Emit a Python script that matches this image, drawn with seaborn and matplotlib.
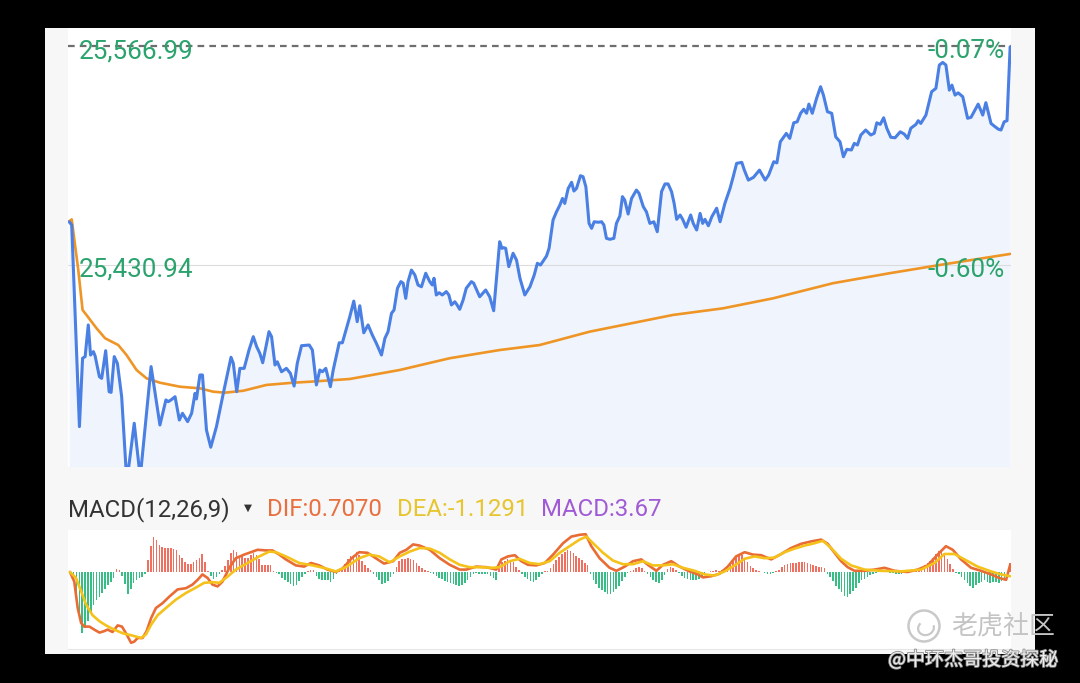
import numpy as np
import matplotlib
matplotlib.use("Agg")
import matplotlib.pyplot as plt
import matplotlib.transforms as mtransforms
from matplotlib.patches import Rectangle, Circle, Arc
import matplotlib.patheffects as pe
import seaborn as sns

# ---------------- data ----------------
# intraday price (minute index from open, price)
price_min = [
    0.4, 1.3, 4.0, 5.1, 6.0, 7.1, 7.9, 8.9, 9.5, 11.0,
    11.8, 13.2, 14.4, 15.1, 16.2, 17.3, 18.8, 20.6, 23.2, 25.3,
    29.1, 30.5, 32.2, 34.3, 35.1, 36.1, 37.5, 39.0, 40.1, 41.9,
    43.3, 44.5, 45.0, 46.2, 47.1, 48.5, 50.0, 52.0, 54.4, 57.1,
    57.9, 59.1, 60.2, 61.7, 63.4, 64.9, 66.1, 67.2, 68.2, 70.4,
    71.3, 72.5, 73.3, 74.8, 76.5, 77.9, 79.2, 80.3, 81.8, 84.5,
    85.6, 87.0, 88.2, 89.1, 90.3, 91.9, 92.9, 95.0, 96.1, 98.7,
    100.1, 101.3, 102.2, 103.6, 105.1, 106.6, 108.0, 109.8, 111.0, 112.1,
    113.3, 114.2, 115.4, 116.6, 117.4, 118.3, 119.1, 120.3, 121.5, 122.6,
    123.8, 125.3, 126.7, 127.6, 128.2, 129.0, 130.0, 131.1, 132.5, 133.4,
    134.3, 135.5, 136.3, 137.2, 138.4, 139.5, 141.3, 142.1, 144.2, 146.3,
    147.7, 149.1, 151.2, 152.0, 152.6, 153.3, 154.4, 155.9, 157.1, 158.3,
    160.0, 161.8, 163.3, 164.4, 165.5, 167.6, 168.5, 169.9, 171.1, 172.3,
    173.2, 174.0, 175.2, 176.4, 177.2, 178.1, 179.5, 180.4, 181.4, 182.5,
    183.4, 184.3, 185.7, 186.9, 187.7, 188.6, 189.8, 191.2, 192.1, 193.3,
    194.2, 195.0, 196.2, 197.4, 199.1, 200.0, 201.5, 202.6, 203.8, 205.2,
    206.4, 207.9, 209.1, 210.2, 211.4, 212.3, 213.2, 214.4, 215.3, 216.5,
    218.1, 219.0, 220.2, 221.4, 222.3, 223.1, 224.3, 225.5, 227.2, 228.4,
    230.1, 231.9, 233.0, 234.2, 236.0, 236.9, 238.3, 240.1, 242.2, 244.2,
    245.4, 247.2, 248.3, 249.5, 251.6, 252.8, 254.2, 255.4, 256.6, 257.7,
    258.7, 259.5, 260.7, 262.2, 263.6, 264.6, 266.0, 267.5, 268.9, 270.4,
    271.6, 272.8, 274.4, 275.4, 276.5, 277.7, 279.4, 281.2, 282.4, 283.3,
    284.5, 285.7, 286.8, 288.2, 289.7, 291.5, 292.9, 294.1, 295.2, 297.0,
    297.8, 298.7, 300.5, 302.5, 304.0, 305.2, 306.4, 307.5, 308.7, 309.6,
    310.7, 311.8, 313.4, 315.1, 316.3, 318.8, 320.4, 321.5, 323.3, 324.4,
    325.8, 326.8, 327.9, 328.9, 330.0,
]
price = [
    25457.8, 25455.8, 25330.5, 25373.0, 25374.0, 25393.7, 25375.0, 25377.1, 25374.4, 25361.5,
    25360.5, 25377.7, 25352.2, 25351.8, 25374.0, 25369.8, 25349.1, 25296.0, 25332.6, 25299.0,
    25367.8, 25351.2, 25331.5, 25347.1, 25346.0, 25347.1, 25349.1, 25334.6, 25338.8, 25333.6,
    25338.8, 25351.2, 25347.7, 25362.6, 25362.6, 25328.4, 25317.7, 25330.5, 25351.2, 25373.6,
    25369.8, 25352.2, 25366.7, 25366.7, 25378.1, 25386.4, 25380.1, 25376.0, 25370.2, 25389.5,
    25386.4, 25368.8, 25370.8, 25364.6, 25366.7, 25363.6, 25355.7, 25369.8, 25380.8, 25381.2,
    25378.1, 25356.4, 25365.7, 25364.6, 25366.7, 25355.3, 25365.7, 25382.6, 25382.6, 25398.8,
    25408.5, 25395.7, 25405.6, 25388.8, 25393.7, 25387.4, 25382.3, 25375.0, 25385.4, 25389.5,
    25400.9, 25403.0, 25416.5, 25420.6, 25419.6, 25410.2, 25420.6, 25427.8, 25424.7, 25418.5,
    25417.4, 25425.8, 25420.6, 25418.5, 25422.7, 25412.3, 25413.7, 25412.3, 25414.4, 25412.3,
    25406.1, 25408.1, 25406.1, 25403.4, 25409.2, 25416.5, 25420.6, 25419.6, 25411.2, 25415.4,
    25411.2, 25402.5, 25445.4, 25441.3, 25441.7, 25441.3, 25429.9, 25438.2, 25434.0, 25422.7,
    25412.3, 25417.4, 25424.7, 25432.0, 25430.9, 25436.5, 25441.3, 25458.9, 25464.0, 25468.2,
    25472.3, 25469.2, 25478.5, 25482.3, 25476.9, 25478.5, 25486.4, 25485.8, 25479.5, 25456.8,
    25453.7, 25457.8, 25457.5, 25457.8, 25455.8, 25447.5, 25446.9, 25447.5, 25456.8, 25461.4,
    25473.4, 25471.3, 25462.6, 25472.3, 25477.5, 25475.5, 25467.2, 25464.0, 25456.8, 25457.8,
    25451.6, 25476.5, 25481.3, 25481.3, 25476.5, 25469.3, 25459.3, 25462.0, 25459.3, 25454.4,
    25462.0, 25456.8, 25452.7, 25463.0, 25456.8, 25459.3, 25455.3, 25460.9, 25466.2, 25457.8,
    25469.3, 25478.6, 25485.8, 25494.1, 25494.7, 25489.9, 25483.7, 25485.4, 25489.9, 25483.7,
    25486.8, 25495.1, 25494.4, 25507.5, 25512.7, 25509.6, 25519.3, 25519.9, 25525.2, 25527.7,
    25525.2, 25530.9, 25525.2, 25534.5, 25541.7, 25536.5, 25526.2, 25525.2, 25510.6, 25507.5,
    25498.2, 25502.8, 25502.4, 25506.5, 25505.5, 25511.7, 25514.8, 25511.7, 25512.8, 25519.3,
    25518.3, 25522.4, 25515.9, 25510.3, 25510.0, 25513.7, 25512.3, 25509.6, 25515.9, 25518.3,
    25520.6, 25518.9, 25524.1, 25538.6, 25540.7, 25555.2, 25556.8, 25555.2, 25539.6, 25542.7,
    25536.5, 25537.9, 25535.5, 25522.1, 25522.7, 25530.9, 25524.1, 25531.8, 25518.9, 25517.3,
    25515.4, 25514.8, 25519.9, 25520.6, 25566.5,
]

# average price line
ma_min = [0.4, 1.3, 3.6, 5.1, 7.1, 10.0, 13.0, 17.6, 20.5, 24.0, 27.5, 32.2, 39.2,
          46.2, 50.9, 55.0, 61.4, 69.5, 78.9, 84.7, 98.7, 116.2, 133.7, 151.2, 165.2,
          182.7, 211.9, 229.4, 246.9, 267.9, 287.7, 305.2, 330.0]
ma_val = [25458.0, 25459.3, 25427.8, 25403.0, 25398.4, 25391.6, 25385.4, 25381.2,
          25375.0, 25365.7, 25360.5, 25357.8, 25355.3, 25354.3, 25352.2, 25351.6,
          25352.8, 25356.4, 25357.8, 25358.4, 25360.1, 25365.7, 25373.0, 25378.1,
          25381.2, 25389.5, 25399.9, 25404.0, 25410.2, 25419.6, 25425.8, 25430.9, 25437.8]

price_high_label = 25566.99
price_mid_label = 25430.94
pct_high_label = "-0.07%"
pct_mid_label = "-0.60%"

# MACD histogram, one bar per minute (chart units)
macd_hist = [
    0.0, -0.3, -1.5, -4.0, -8.0, -10.2, -9.3, -8.2, -6.6, -5.5,
    -4.7, -4.1, -3.5, -2.9, -2.1, -1.6, -1.0, 0.5, 0.4, -0.6,
    -2.0, -3.6, -2.8, -1.9, -1.3, -1.0, -0.8, -0.4, 2.0, 4.4,
    5.8, 5.3, 4.5, 4.1, 4.0, 4.0, 4.0, 3.8, 3.6, 2.9,
    2.3, 1.6, 1.3, 1.4, 1.6, 2.0, 2.4, 3.0, 1.6, 0.2,
    -0.7, -1.1, -0.9, -0.4, 0.3, 1.0, 2.0, 3.1, 3.7, 3.3,
    2.7, 2.6, 2.4, 2.4, 2.8, 3.1, 2.8, 2.1, 1.2, 1.1,
    1.2, 1.1, 0.2, -0.2, -0.4, -1.0, -1.3, -1.6, -2.0, -2.3,
    -2.2, -1.5, -0.9, -0.3, 0.2, 0.4, 0.3, -0.6, -1.1, -1.3,
    -1.3, -1.4, -1.7, -1.2, -0.4, 0.2, 0.7, 1.3, 2.1, 2.6,
    2.9, 3.4, 2.9, 1.9, 1.1, 0.7, 0.4, -0.3, -0.9, -1.4,
    -2.0, -1.9, -1.5, -0.9, -0.3, 0.8, 1.8, 2.1, 2.2, 2.3,
    2.2, 2.0, 1.5, 1.0, 0.6, 0.4, 0.2, -0.2, -0.4, -0.7,
    -1.0, -1.2, -1.5, -1.7, -1.9, -2.0, -2.2, -2.4, -2.2, -1.8,
    -1.3, -0.8, -0.4, -0.1, -0.3, -0.3, -0.4, -0.4, -0.6, -1.0,
    -1.3, 0.9, 1.6, 1.9, 2.1, 2.0, 1.7, 0.9, 0.3, -0.3,
    -0.8, -1.2, -1.5, -1.7, -1.3, -0.8, -0.4, 0.1, 0.2, 0.7,
    1.4, 2.0, 2.5, 3.0, 3.3, 3.6, 3.5, 3.1, 2.6, 2.3,
    2.0, 1.5, 1.1, -0.4, -1.3, -2.0, -2.6, -3.0, -3.3, -3.7,
    -3.7, -3.3, -2.9, -2.3, -1.5, -0.8, -0.2, 0.1, 0.3, 0.7,
    0.8, 0.6, 0.2, -0.4, -0.9, -1.3, -1.6, -1.8, -1.3, -0.5,
    0.5, 0.8, 0.7, 0.3, -0.2, -0.6, -1.0, -1.2, -1.3, -1.4,
    -1.4, -1.2, -0.6, -0.2, 0.0, 0.1, 0.2, 0.3, 0.2, 0.3,
    0.4, 0.8, 1.3, 1.9, 2.5, 2.9, 2.9, 2.3, 1.7, 1.0,
    0.7, 0.4, 0.2, 0.0, -0.2, -0.4, -0.4, -0.2, 0.1, 0.4,
    0.8, 1.1, 1.4, 1.5, 1.5, 1.5, 1.6, 1.6, 1.6, 1.5,
    1.3, 1.1, 1.0, 0.9, 0.9, 0.6, -0.3, -0.9, -1.5, -2.3,
    -2.9, -3.4, -4.0, -4.2, -3.6, -3.1, -2.6, -1.9, -1.4, -1.1,
    -0.8, -0.5, -0.3, -0.1, 0.1, 0.2, 0.2, 0.1, -0.1, -0.2,
    -0.3, -0.3, -0.3, -0.2, -0.1, 0.1, 0.3, 0.4, 0.6, 0.9,
    1.2, 1.5, 1.9, 2.4, 3.0, 3.5, 3.9, 3.0, 2.1, 1.4,
    0.5, -0.2, -0.4, -0.9, -1.4, -1.8, -2.4, -2.6, -2.1, -1.9,
    -1.6, -1.4, -1.6, -1.8, -1.7, -1.7, -1.8, -1.5, -1.0, -0.4,
    1.5,
]

dif_min = [
    0.7, 2.2, 3.4, 4.6, 5.7, 7.5, 9.2, 11.0, 12.4, 13.9,
    15.6, 17.4, 18.9, 20.3, 22.1, 23.2, 24.4, 26.1, 27.5, 29.1,
    30.8, 33.1, 35.5, 38.4, 41.3, 43.6, 45.4, 47.1, 48.9, 50.6,
    52.4, 54.1, 56.5, 58.8, 61.7, 64.1, 66.4, 69.3, 71.6, 74.0,
    76.3, 79.8, 82.7, 85.1, 88.0, 90.9, 93.8, 96.2, 99.6, 102.0,
    104.9, 107.8, 110.7, 113.9, 116.2, 118.5, 120.9, 123.2, 126.7, 130.2,
    133.7, 137.2, 139.5, 143.0, 146.5, 150.0, 151.8, 154.1, 156.5, 158.8,
    161.1, 164.0, 167.0, 169.9, 173.4, 176.3, 179.2, 181.3, 183.3, 186.2,
    189.7, 192.1, 195.0, 197.9, 200.8, 203.1, 206.1, 208.4, 211.3, 214.2,
    217.7, 220.6, 222.4, 225.3, 228.2, 231.1, 234.0, 237.0, 239.9, 242.8,
    246.3, 249.8, 253.3, 256.8, 260.3, 263.8, 266.1, 268.5, 270.8, 273.1,
    275.5, 279.0, 282.5, 286.0, 289.5, 294.1, 297.6, 301.1, 304.6, 307.5,
    309.9, 312.8, 316.3, 319.8, 323.3, 326.2, 328.6, 330.0,
]
dif_val = [
    0.0, -1.6, -6.0, -8.5, -9.1, -9.1, -9.6, -10.1, -9.9, -9.6,
    -10.0, -8.9, -9.1, -10.2, -11.8, -11.6, -11.0, -11.0, -9.9, -7.7,
    -6.0, -5.2, -4.1, -2.9, -2.7, -2.1, -1.3, -0.4, -1.0, -2.1,
    -2.4, -1.6, 0.7, 2.3, 2.9, 3.3, 3.7, 3.6, 3.6, 2.9,
    2.1, 1.1, 0.9, 1.5, 1.1, 0.4, 0.0, 0.6, 2.4, 3.3,
    3.2, 2.3, 1.4, 1.8, 3.2, 3.7, 4.6, 4.4, 3.7, 2.3,
    1.2, 0.4, 0.4, 0.9, 0.8, 0.4, 2.1, 2.6, 2.8, 1.8,
    1.2, 1.1, 1.5, 2.9, 4.8, 5.9, 6.2, 6.3, 4.3, 2.3,
    0.7, 0.2, 0.9, 1.8, 2.1, 1.2, 0.2, 1.2, 1.8, 0.9,
    0.1, -0.4, -0.9, -0.7, -0.3, 0.9, 2.6, 3.3, 2.9, 2.8,
    2.1, 3.0, 4.0, 4.7, 5.1, 5.4, 4.7, 3.2, 1.8, 0.8,
    0.2, 0.2, 0.4, 0.7, 0.2, 0.0, 0.4, 1.1, 2.9, 4.3,
    3.7, 2.1, 0.7, 0.2, -0.4, -1.0, -1.3, 1.2,
]
dea_min = [
    0.7, 2.8, 4.6, 6.3, 8.6, 11.0, 13.3, 16.2, 19.1, 22.6,
    25.6, 27.3, 29.1, 31.4, 34.3, 37.8, 41.3, 44.8, 47.7, 50.6,
    53.0, 55.3, 58.8, 62.9, 67.0, 70.5, 72.8, 76.3, 81.0, 85.7,
    90.3, 93.8, 97.3, 102.0, 105.5, 109.0, 112.7, 116.2, 119.7, 123.2,
    126.7, 130.2, 133.7, 137.2, 140.7, 144.2, 148.9, 151.2, 154.7, 158.2,
    161.7, 165.2, 168.7, 172.2, 175.7, 179.2, 181.6, 183.9, 187.4, 190.9,
    194.4, 197.9, 201.4, 204.9, 208.4, 211.9, 215.4, 219.5, 223.0, 226.5,
    230.0, 233.5, 237.0, 240.5, 244.0, 247.5, 251.0, 254.5, 258.0, 261.5,
    264.4, 267.3, 270.8, 274.3, 279.0, 284.8, 291.8, 298.8, 303.5, 307.0,
    310.5, 314.0, 318.6, 323.3, 326.8, 330.0,
]
dea_val = [
    0.0, -1.0, -3.2, -5.4, -7.2, -8.2, -8.9, -9.6, -10.2, -10.6,
    -11.0, -10.4, -8.8, -7.2, -6.0, -4.6, -3.5, -2.6, -1.8, -1.7,
    -1.8, -1.0, 0.4, 1.5, 2.6, 3.4, 3.3, 2.6, 1.5, 1.1,
    0.6, 0.1, 0.8, 2.3, 2.9, 2.6, 1.6, 2.6, 3.4, 4.0,
    3.9, 3.2, 2.1, 1.2, 0.8, 0.8, 0.7, 0.8, 1.8, 2.2,
    1.5, 1.3, 1.8, 3.2, 4.3, 5.4, 5.9, 4.8, 3.2, 1.9,
    1.3, 1.3, 1.8, 1.1, 1.1, 1.3, 0.7, 0.2, -0.4, -0.6,
    0.1, 1.1, 2.2, 2.6, 2.3, 2.4, 3.3, 3.9, 4.4, 4.8,
    5.2, 4.0, 2.2, 1.1, 0.4, 0.2, 0.1, 0.4, 1.5, 3.0,
    3.0, 2.1, 0.9, 0.1, -0.4, -0.7,
]

macd_title = "MACD(12,26,9)"
dif_label = "DIF:0.7070"
dea_label = "DEA:-1.1291"
macd_label = "MACD:3.67"

# ---------------- style ----------------
sns.set_theme(style="white")
plt.rcParams["font.family"] = ["Roboto", "DejaVu Sans"]

W, H = 1080, 683
fig = plt.figure(figsize=(W / 100, H / 100), dpi=100, facecolor="black")


def fx(px):
    return px / W


def fy(py):
    return 1 - py / H


# light grey card
fig.add_artist(Rectangle((fx(45), fy(654)), (1035 - 45) / W, (654 - 28) / H,
                         transform=fig.transFigure, facecolor="#F7F7F7",
                         edgecolor="none", zorder=0))

GREEN_TXT = "#2BA36D"
BLUE = "#4A7FE3"
ORANGE = "#EE9526"

# ---------------- price panel ----------------
ax = fig.add_axes([fx(68), fy(466.7), (1011 - 68) / W, (466.7 - 28) / H])
ax.set_facecolor("white")
ylo, yhi = 25305.6, 25578.2
ax.set_xlim(0, 330.3)
ax.set_ylim(ylo, yhi)

ax.fill_between(price_min, price, ylo, color="#F0F5FD", linewidth=0, zorder=1)
ax.axhline(price_mid_label, color="#DCDCDC", linewidth=0.8, zorder=2)
ax.axhline(price_high_label, color="#6E6E6E", linewidth=1.6,
           dashes=(3.0, 2.3), zorder=2)
sns.lineplot(x=ma_min, y=ma_val, ax=ax, color=ORANGE, linewidth=1.9,
             estimator=None, sort=False, legend=False, zorder=3)
sns.lineplot(x=price_min, y=price, ax=ax, color=BLUE, linewidth=2.2,
             estimator=None, sort=False, legend=False, zorder=4,
             solid_joinstyle="round")

ytr = ax.get_yaxis_transform()
lab_tr = mtransforms.offset_copy(ytr, fig=fig, y=-12 * 0.72, units="points")
fs_lab = 18.7
ax.text(0.0117, price_high_label, f"{price_high_label:,.2f}", transform=lab_tr,
        ha="left", va="baseline", color=GREEN_TXT, fontsize=fs_lab, zorder=6)
ax.text(0.0117, price_mid_label, f"{price_mid_label:,.2f}", transform=lab_tr,
        ha="left", va="baseline", color=GREEN_TXT, fontsize=fs_lab, zorder=6)
ax.text(0.9936, price_high_label, pct_high_label, transform=lab_tr,
        ha="right", va="baseline", color=GREEN_TXT, fontsize=fs_lab, zorder=6)
ax.text(0.9936, price_mid_label, pct_mid_label, transform=lab_tr,
        ha="right", va="baseline", color=GREEN_TXT, fontsize=fs_lab, zorder=6)

ax.set_xticks([])
ax.set_yticks([])
ax.set_xlabel("")
ax.set_ylabel("")
for s in ax.spines.values():
    s.set_visible(False)

# ---------------- MACD panel ----------------
ax2 = fig.add_axes([fx(68), fy(648.5), (1011 - 68) / W, (648.5 - 530) / H])
ax2.set_facecolor("white")
ax2.set_xlim(0, 330.3)
ax2.set_ylim(-12.75, 7.0)
bar_x = np.arange(len(macd_hist))
bar_colors = ["#EF6F60" if v >= 0 else "#38BD84" for v in macd_hist]
ax2.bar(bar_x, macd_hist, width=0.55, color=bar_colors, linewidth=0, zorder=2)
sns.lineplot(x=dif_min, y=dif_val, ax=ax2, color="#E96C35", linewidth=1.9,
             estimator=None, sort=False, legend=False, zorder=3)
sns.lineplot(x=dea_min, y=dea_val, ax=ax2, color="#F4C21A", linewidth=1.9,
             estimator=None, sort=False, legend=False, zorder=4)
ax2.set_xticks([])
ax2.set_yticks([])
ax2.set_xlabel("")
ax2.set_ylabel("")
for k, s in ax2.spines.items():
    if k == "bottom":
        s.set_visible(True)
        s.set_color("#E6E6E6")
        s.set_linewidth(0.8)
    else:
        s.set_visible(False)

# MACD header
fs_h = 17.3
fig.text(fx(68), fy(516), macd_title, color="#333333", fontsize=fs_h, va="baseline")
fig.text(fx(248), fy(507.5), "▼", color="#333333", fontsize=7.5, ha="center",
         va="center", family=["DejaVu Sans"])
fig.text(fx(267), fy(516), dif_label, color="#E8703F", fontsize=fs_h, va="baseline")
fig.text(fx(397), fy(516), dea_label, color="#E6C52E", fontsize=fs_h, va="baseline")
fig.text(fx(541), fy(516), macd_label, color="#A05AD6", fontsize=fs_h, va="baseline")

# ---------------- watermark ----------------
idt = mtransforms.IdentityTransform()
fig.add_artist(Circle((924, H - 626), 15.5, transform=idt, facecolor="none",
                      edgecolor="#C9C9C9", linewidth=1.8, zorder=10))
fig.add_artist(Arc((926, H - 628), 16, 14, angle=20, theta1=120, theta2=360,
                   transform=idt, edgecolor="#C9C9C9", linewidth=1.6, zorder=10))
fig.text(fx(951), fy(626), "老虎社区", color="#C4C4C4", fontsize=18.7,
         va="center", ha="left", family=["Noto Sans CJK SC", "DejaVu Sans"],
         zorder=10)
fig.text(fx(888), fy(660), "@中环杰哥投资探秘", color="#EEEEEE", fontsize=13.7,
         va="center", ha="left", family=["Noto Sans CJK SC", "DejaVu Sans"],
         zorder=10,
         path_effects=[pe.withStroke(linewidth=1.2, foreground="#8A8A8A")])

fig.savefig("out.png", dpi=100, facecolor="black")
